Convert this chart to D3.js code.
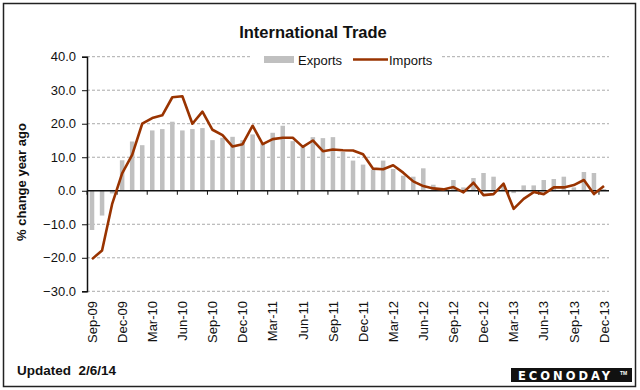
<!DOCTYPE html>
<meta charset="utf-8">
<script src="https://d3js.org/d3.v7.min.js"></script>
<style>
body{margin:0;background:#fff;}
text{font-family:"Liberation Sans",Arial,sans-serif;fill:#111;}
</style>
<div id="vis"></div>
<script>

// Months on the category axis
var months = ["Sep-09","Oct-09","Nov-09","Dec-09",
  "Jan-10","Feb-10","Mar-10","Apr-10","May-10","Jun-10","Jul-10","Aug-10","Sep-10","Oct-10","Nov-10","Dec-10",
  "Jan-11","Feb-11","Mar-11","Apr-11","May-11","Jun-11","Jul-11","Aug-11","Sep-11","Oct-11","Nov-11","Dec-11",
  "Jan-12","Feb-12","Mar-12","Apr-12","May-12","Jun-12","Jul-12","Aug-12","Sep-12","Oct-12","Nov-12","Dec-12",
  "Jan-13","Feb-13","Mar-13","Apr-13","May-13","Jun-13","Jul-13","Aug-13","Sep-13","Oct-13","Nov-13","Dec-13"];

// Exports, % change year ago (bars)
var exportsPct = [-11.7,-7.4,-0.8,9.1,
  14.7,13.6,18.0,18.4,20.6,18.0,18.4,18.7,15.1,15.8,16.1,15.1,
  16.8,14.2,17.3,19.4,14.8,13.0,16.0,15.7,16.0,11.6,9.0,7.8,
  6.3,9.0,6.5,4.5,4.2,6.7,1.8,0.5,3.2,1.0,3.8,5.3,
  4.2,1.5,-0.7,1.6,1.6,3.2,3.5,4.2,1.0,5.6,5.3,0.5];

// Imports, % change year ago (line)
var importsPct = [-20.4,-17.8,-4.0,5.2,
  10.7,20.0,21.7,22.5,27.9,28.2,20.0,23.6,18.2,16.6,13.2,13.9,
  19.4,13.9,15.4,15.8,15.8,13.1,15.0,11.8,12.3,12.1,12.0,10.9,
  6.6,6.4,7.6,5.4,2.8,1.4,0.7,0.4,1.1,-0.5,2.4,-1.3,
  -1.0,2.1,-5.4,-2.4,-0.4,-1.0,1.0,1.0,1.7,3.2,-1.0,1.4];

var yTicks = [-30,-20,-10,0,10,20,30,40];
var xTickLabels = months.filter(function(d, i) { return i % 3 == 0; });

var w = 640, h = 390;
var plotLeft = 87, plotRight = 609, plotTop = 56.7, plotBottom = 291.3;

var svg = d3.select("#vis").append("svg")
    .attr("width", w)
    .attr("height", h);

// outer frame
svg.append("rect")
    .attr("x", 3.5).attr("y", 3.5)
    .attr("width", 632).attr("height", 383)
    .attr("fill", "#fff")
    .attr("stroke", "#222")
    .attr("stroke-width", 1.5);

var x = d3.scaleBand()
    .domain(months)
    .range([plotLeft, plotRight])
    .paddingInner(0.55)
    .paddingOuter(0.275);

var y = d3.scaleLinear()
    .domain([-30, 40])
    .range([plotBottom, plotTop]);

// dashed gridlines
svg.append("g").selectAll("line")
    .data(yTicks.filter(function(d) { return d != 0; }))
  .enter().append("line")
    .attr("x1", plotLeft).attr("x2", plotRight)
    .attr("y1", function(d) { return y(d); })
    .attr("y2", function(d) { return y(d); })
    .attr("stroke", "#aaa")
    .attr("stroke-dasharray", "3,2");

// title
svg.append("text")
    .attr("x", 313).attr("y", 38)
    .attr("text-anchor", "middle")
    .style("font-size", "16.5px")
    .style("font-weight", "bold")
    .text("International Trade");

// legend
var lg = svg.append("g");
lg.append("rect").attr("x", 252).attr("y", 50).attr("width", 190).attr("height", 18).attr("fill", "#fff");
lg.append("rect").attr("x", 264).attr("y", 56).attr("width", 30).attr("height", 7).attr("fill", "#c0c0c0");
lg.append("text").attr("x", 298).attr("y", 64.5).style("font-size", "13px").text("Exports");
lg.append("line").attr("x1", 353).attr("x2", 388).attr("y1", 59.5).attr("y2", 59.5)
    .attr("stroke", "#993300").attr("stroke-width", 2.5);
lg.append("text").attr("x", 389).attr("y", 64.5).style("font-size", "13px").text("Imports");

// export bars
svg.append("g").selectAll("rect")
    .data(exportsPct)
  .enter().append("rect")
    .attr("x", function(d, i) { return x(months[i]); })
    .attr("y", function(d) { return y(Math.max(0, d)); })
    .attr("width", x.bandwidth())
    .attr("height", function(d) { return Math.abs(y(d) - y(0)); })
    .attr("fill", "#c0c0c0");

// zero line with tick marks every 3 months
svg.append("line")
    .attr("x1", plotLeft).attr("x2", plotRight)
    .attr("y1", y(0)).attr("y2", y(0))
    .attr("stroke", "#111").attr("stroke-width", 1.5);

var gap = (x.step() - x.bandwidth()) / 2;
svg.append("g").selectAll("line")
    .data(xTickLabels)
  .enter().append("line")
    .attr("x1", function(d) { return x(d) - gap; })
    .attr("x2", function(d) { return x(d) - gap; })
    .attr("y1", y(0)).attr("y2", y(0) + 4)
    .attr("stroke", "#111");

// imports line
var line = d3.line()
    .x(function(d, i) { return x(months[i]) + x.bandwidth() / 2; })
    .y(function(d) { return y(d); });

svg.append("path")
    .datum(importsPct)
    .attr("d", line)
    .attr("fill", "none")
    .attr("stroke", "#993300")
    .attr("stroke-width", 2.6)
    .attr("stroke-linejoin", "round");

// y axis
var yAxis = svg.append("g")
    .attr("transform", "translate(" + plotLeft + ",0)")
    .call(d3.axisLeft(y).tickValues(yTicks).tickSize(5).tickPadding(6).tickFormat(d3.format(".1f")));
yAxis.select(".domain").attr("stroke", "#111").attr("stroke-width", 1.5);
yAxis.selectAll(".tick line").attr("stroke", "#111");
yAxis.selectAll("text")
    .style("font-size", "13px")
    .style("font-family", "Liberation Sans, Arial, sans-serif")
    .attr("fill", "#111");

// x labels, rotated
svg.append("g").selectAll("text")
    .data(xTickLabels)
  .enter().append("text")
    .attr("transform", function(d) {
      return "translate(" + (x(d) + x.bandwidth() / 2) + ",301) rotate(-90)";
    })
    .attr("dy", "0.36em")
    .attr("text-anchor", "end")
    .style("font-size", "13px")
    .text(function(d) { return d; });

// y axis title
svg.append("text")
    .attr("transform", "translate(21,182) rotate(-90)")
    .attr("text-anchor", "middle")
    .attr("dy", "0.35em")
    .style("font-size", "13px")
    .style("font-weight", "bold")
    .text("% change year ago");

// footer
svg.append("text")
    .attr("x", 17).attr("y", 375)
    .style("font-size", "13.5px")
    .style("font-weight", "bold")
    .text("Updated\u00a0\u00a02/6/14");

var logo = svg.append("g");
logo.append("rect")
    .attr("x", 511).attr("y", 368)
    .attr("width", 121).attr("height", 14)
    .attr("fill", "#111");
logo.append("text")
    .attr("x", 518).attr("y", 379.5)
    .style("font-family", "DejaVu Sans, sans-serif")
    .style("font-size", "11.5px")
    .style("font-weight", "bold")
    .style("letter-spacing", "3px")
    .style("fill", "#fff")
    .text("ECONODAY");
logo.append("text")
    .attr("x", 620).attr("y", 375)
    .style("font-size", "5px")
    .style("font-weight", "bold")
    .style("fill", "#fff")
    .text("TM");

</script>
